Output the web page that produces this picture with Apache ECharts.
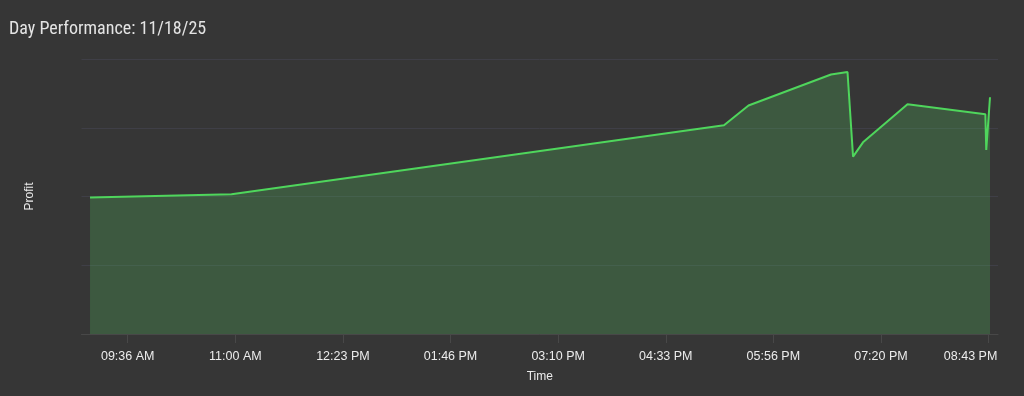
<!DOCTYPE html>
<html>
<head>
<meta charset="utf-8">
<script src="https://cdn.jsdelivr.net/npm/echarts@6/dist/echarts.min.js"></script>
<style>
  html, body { margin: 0; padding: 0; background: #363636; }
  #chart { width: 1024px; height: 396px; }
</style>
</head>
<body>
<div id="chart"></div>
<script>
// Time of each point, in minutes after midnight
const pointMinutes = [547.5, 657.1, 1038.7, 1057.7, 1121.6, 1134.4, 1138.7, 1146.4, 1180.9, 1241.2, 1241.9, 1244.8];
// Profit at each point (relative units)
const profitValues = [198.5, 203.2, 303.6, 332.4, 377.5, 381.1, 257.9, 278.8, 334.1, 319.6, 267.6, 344.3];
// X tick positions (minutes) and their labels
const tickMinutes = [576.7, 660.1, 743.45, 826.8, 910.2, 993.6, 1076.95, 1160.3, 1243.7];
const tickLabels = ['09:36 AM', '11:00 AM', '12:23 PM', '01:46 PM', '03:10 PM', '04:33 PM', '05:56 PM', '07:20 PM', '08:43 PM'];
const xRange = [540.9, 1251.0];
const yRange = [0, 400, 100];

const seriesData = pointMinutes.map((m, i) => [m, profitValues[i]]);

const chart = echarts.init(document.getElementById('chart'), null, { renderer: 'canvas' });
chart.setOption({
  backgroundColor: '#363636',
  animation: false,
  title: {
    text: 'Day Performance: 11/18/25',
    left: 4,
    top: 15,
    textStyle: { color: '#e4e4e4', fontFamily: '"Roboto Condensed", "Liberation Sans Narrow", "DejaVu Sans Condensed", sans-serif', fontSize: 18, fontWeight: 'normal' }
  },
  grid: { left: 81.5, right: 26, top: 59, bottom: 62 },
  xAxis: {
    type: 'value',
    min: xRange[0],
    max: xRange[1],
    name: 'Time',
    nameLocation: 'middle',
    nameGap: 37,
    nameTextStyle: { color: '#ececec', fontFamily: 'Liberation Sans', fontSize: 12 },
    axisLine: { show: true, lineStyle: { color: '#484848', width: 1 } },
    axisTick: { show: true, length: 9, customValues: tickMinutes, lineStyle: { color: '#484848' } },
    axisLabel: {
      customValues: tickMinutes,
      margin: 16,
      color: '#ececec',
      fontFamily: 'Liberation Sans',
      fontSize: 12.5,
      formatter: function (v) {
        let best = 0, d = Infinity;
        tickMinutes.forEach((t, i) => { if (Math.abs(t - v) < d) { d = Math.abs(t - v); best = i; } });
        return best === tickMinutes.length - 1 ? '{last|' + tickLabels[best] + '}' : tickLabels[best];
      },
      rich: {
        last: { color: '#ececec', fontFamily: 'Liberation Sans', fontSize: 12.5, padding: [0, 36, 0, 0] }
      }
    },
    splitLine: { show: false }
  },
  yAxis: {
    type: 'value',
    min: yRange[0],
    max: yRange[1],
    interval: yRange[2],
    name: 'Profit',
    nameLocation: 'middle',
    nameGap: 46,
    nameTextStyle: { color: '#ececec', fontFamily: 'Liberation Sans', fontSize: 12 },
    axisLine: { show: false },
    axisTick: { show: false },
    axisLabel: { show: false },
    splitLine: { show: true, lineStyle: { color: '#3f3f47', width: 1 } }
  },
  series: [{
    type: 'line',
    data: seriesData,
    showSymbol: false,
    symbol: 'none',
    lineStyle: { color: '#4fd65c', width: 2 },
    itemStyle: { color: '#4fd65c' },
    areaStyle: { color: 'rgba(82, 194, 94, 0.25)', opacity: 1 }
  }]
});
</script>
</body>
</html>
